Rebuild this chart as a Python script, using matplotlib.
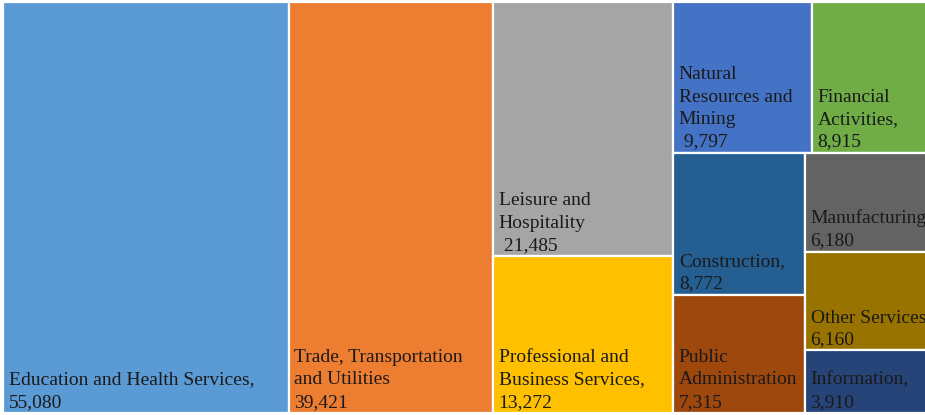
import matplotlib.pyplot as plt
from matplotlib.patches import Rectangle

# employment by industry
labels = ['Education and Health Services,', 'Trade, Transportation\nand Utilities',
          'Leisure and\nHospitality\n', 'Professional and\nBusiness Services,',
          'Natural\nResources and\nMining\n', 'Financial\nActivities,',
          'Construction,', 'Public\nAdministration', 'Manufacturing,',
          'Other Services,', 'Information,']
values = [55080, 39421, 21485, 13272, 9797, 8915, 8772, 7315, 6180, 6160, 3910]
colors = ['#5B9BD5', '#ED7D31', '#A5A5A5', '#FFC000', '#4472C4', '#70AD47',
          '#255E91', '#9E480E', '#636363', '#997300', '#264478']

# plot area runs a bit past the right edge of the picture (clipped)
W, H = 935.0, 411.0


def worst(row, side):
    s = sum(row)
    return max(max(side * side * r / (s * s), s * s / (side * side * r)) for r in row)


def squarify(areas, x, y, w, h):
    # y measured from top
    rects = []
    i = 0
    while i < len(areas):
        side = min(w, h)
        row = [areas[i]]
        j = i + 1
        while j < len(areas) and worst(row + [areas[j]], side) <= worst(row, side):
            row.append(areas[j])
            j += 1
        s = sum(row)
        if w >= h:  # vertical column on the left
            cw = s / h
            yy = y
            for a in row:
                rh = a / cw
                rects.append((x, yy, cw, rh))
                yy += rh
            x += cw
            w -= cw
        else:  # horizontal row on top
            rh = s / w
            xx = x
            for a in row:
                cw = a / rh
                rects.append((xx, y, cw, rh))
                xx += cw
            y += rh
            h -= rh
        i = j
    return rects


total = sum(values)
areas = [v / total * W * H for v in values]
rects = squarify(areas, 0, 0, W, H)

fig = plt.figure(figsize=(9.25, 4.15), dpi=100)
ax = fig.add_axes([3 / 925, 2 / 415, W / 925, H / 415])
ax.set_xlim(0, W)
ax.set_ylim(H, 0)
ax.axis('off')

for (x, y, w, h), lab, v, c in zip(rects, labels, values, colors):
    ax.add_patch(Rectangle((x, y), w, h, facecolor=c, edgecolor='white', linewidth=1.6))
    num = f'{v:,}'
    if lab.endswith('\n'):
        txt = lab + ' ' + num
    else:
        txt = lab + '\n' + num
    ax.annotate(txt, (x, y + h), xytext=(4.0, 1.5), textcoords='offset points',
                ha='left', va='bottom', fontsize=14, family='Liberation Serif',
                color='#1a1a1a', linespacing=1.42, annotation_clip=False)

fig.savefig('out.png', dpi=100)
